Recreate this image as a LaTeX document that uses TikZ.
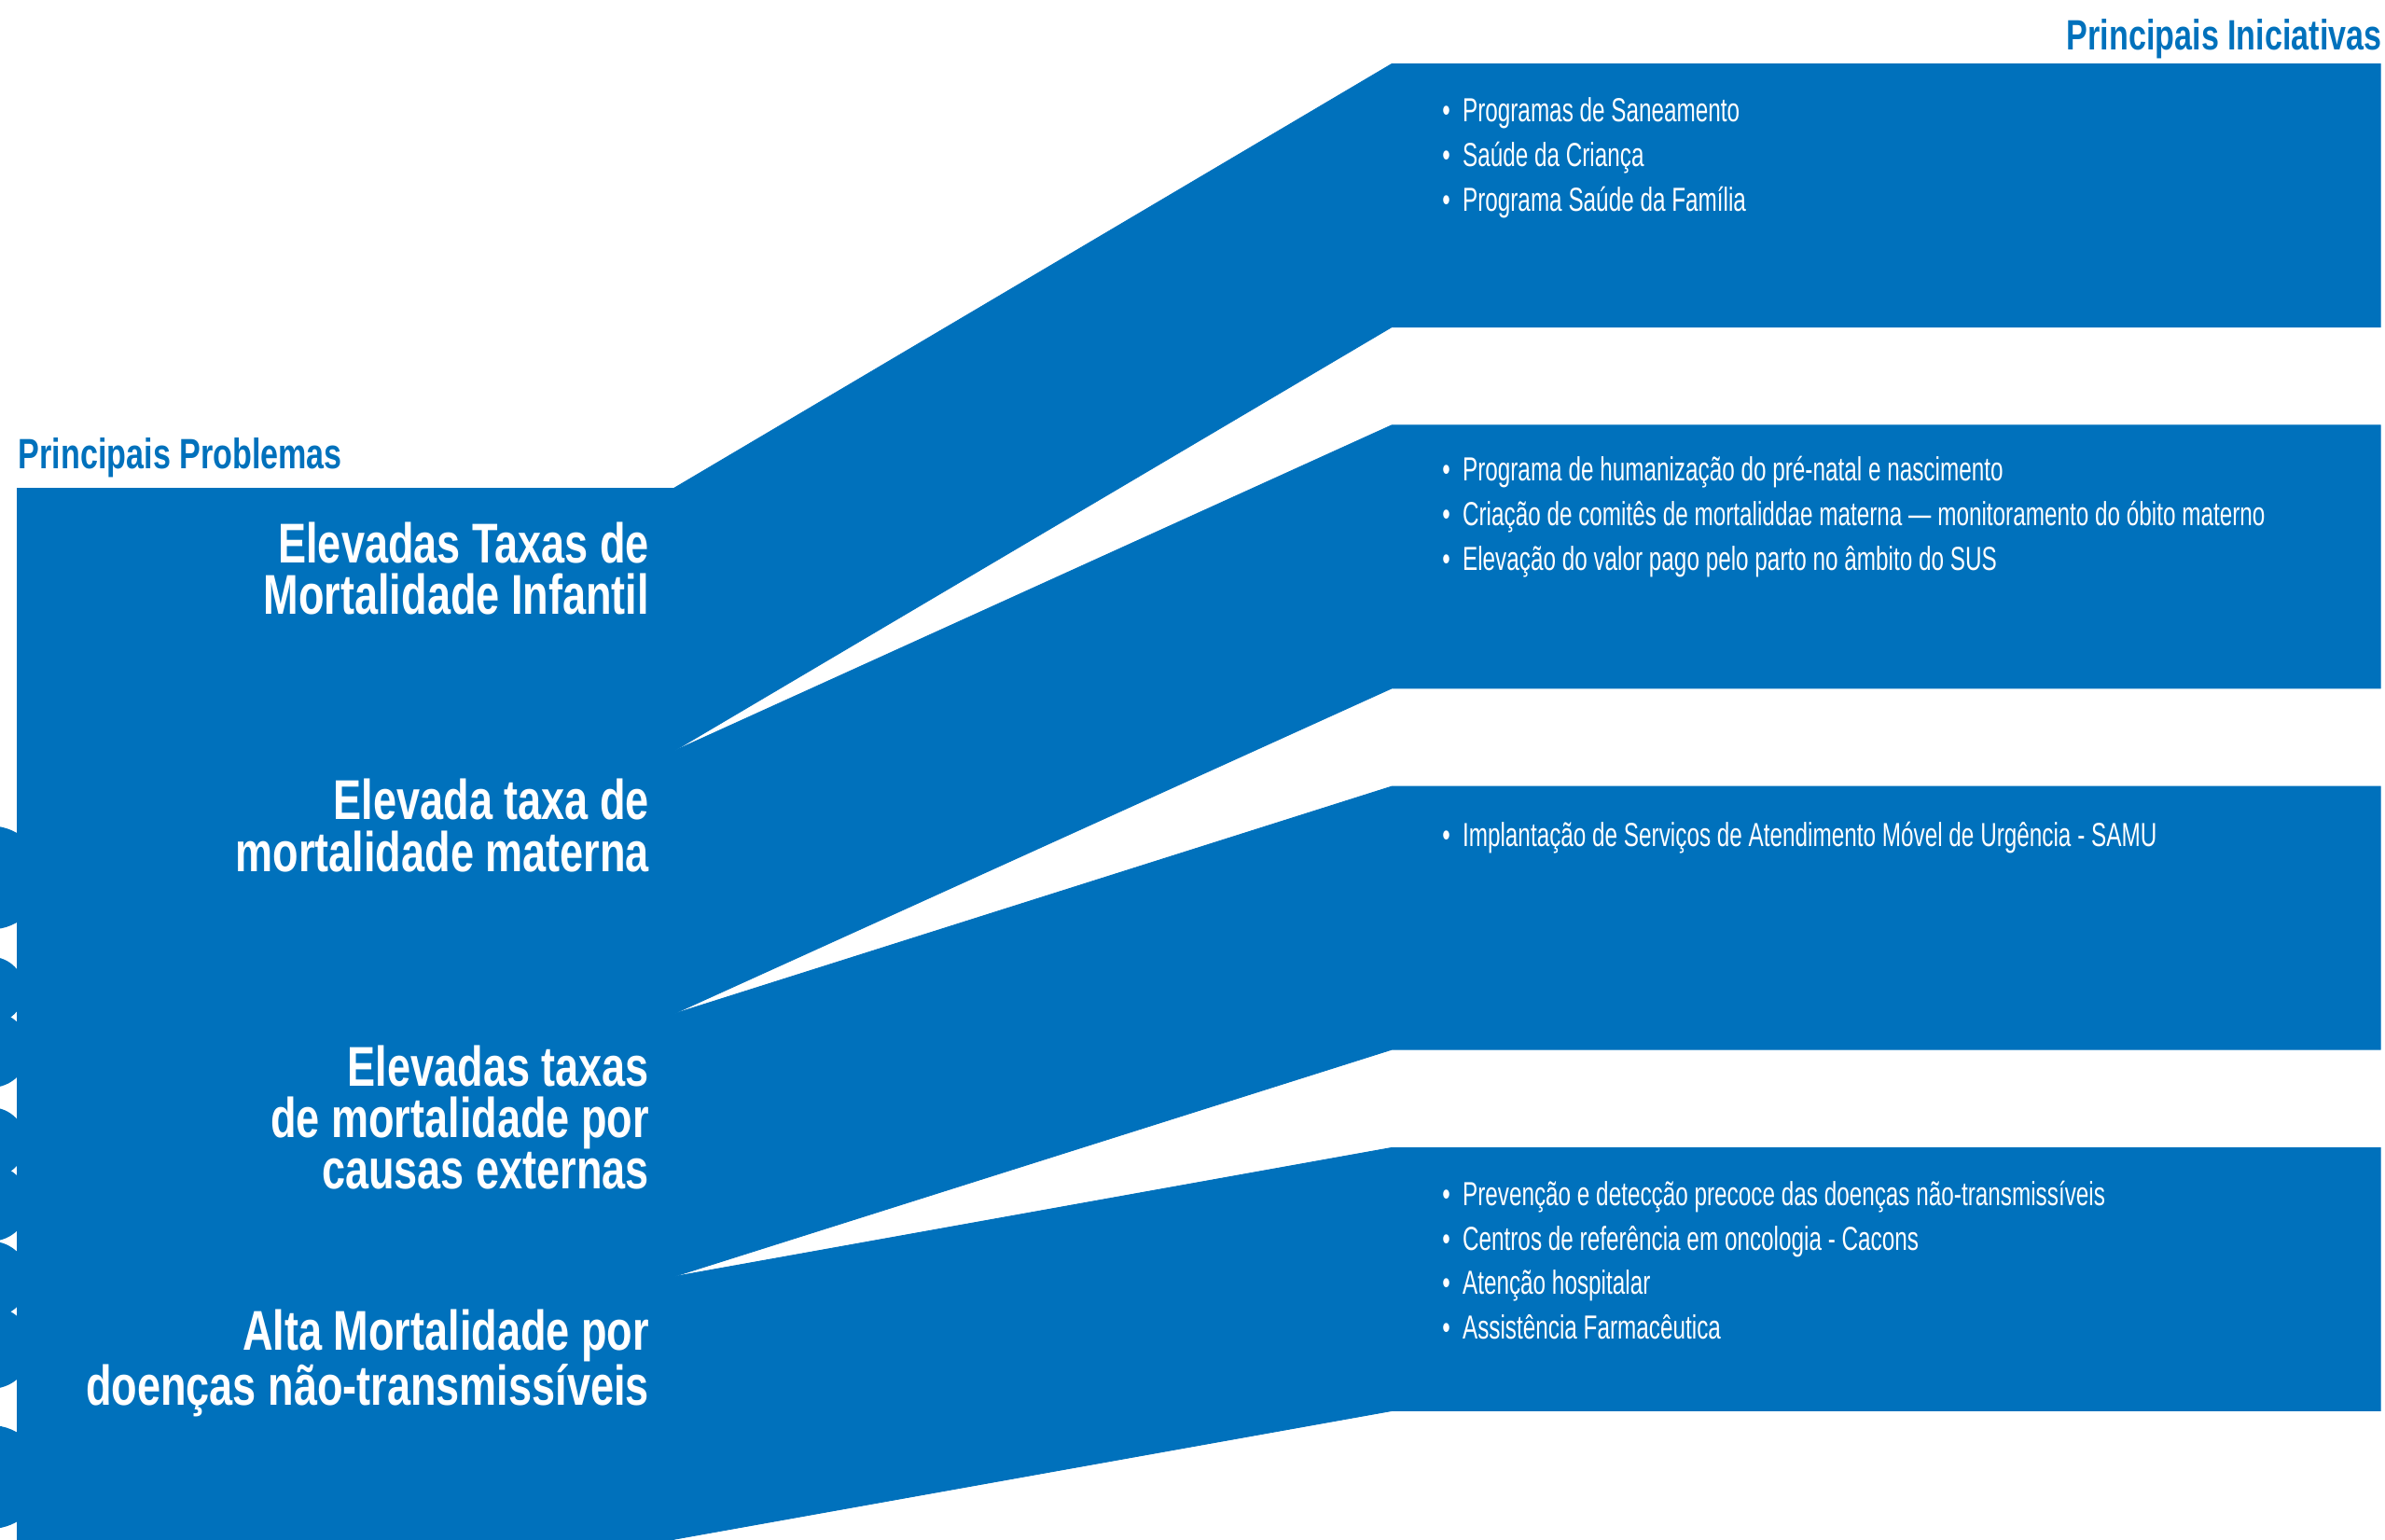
\documentclass[tikz,border=0pt]{standalone}
\usepackage{fontspec}
\setmainfont{Liberation Sans}
\newfontfamily\condfont{Liberation Sans}[FakeStretch=0.75]
\newfontfamily\narrowfont{Liberation Sans}[FakeStretch=0.68]
\definecolor{sbblue}{RGB}{0,113,188}
\newcommand{\itm}{•\kern4bp\ }

\begin{document}
\begin{tikzpicture}[x=1bp,y=-1bp]
  \useasboundingbox (0,0) rectangle (1568,1012);
  \clip (0,0) rectangle (1568,1012);

  \begin{scope}[every path/.style={fill=sbblue,draw=sbblue,line width=0.5bp}]
    \path (11.5,321) rectangle (443,1012);
    \foreach \i in {0,...,3} {
      \path (443,{321+172.75*\i}) -- (915,{42+237.5*\i}) -- (1565,{42+237.5*\i})
        -- (1565,{215+237.5*\i}) -- (915,{215+237.5*\i}) -- (443,{493.75+172.75*\i}) -- cycle;
    }
  \end{scope}

  \begin{scope}
    \clip (0,540) rectangle (11.5,1012);
    \foreach \cy/\r in {577/34,651/22,690/25,751/23,791/25,841/25,886/27,971/34}
      \fill[sbblue] (-6,\cy) circle (\r);
  \end{scope}

  \begin{scope}[every node/.style={inner sep=0,text=sbblue,
      font=\condfont\bfseries\fontsize{28}{30}\selectfont}]
    \node[anchor=base west] (probs) at (12,308) {Principais Problemas};
    \node[anchor=base east] (inits) at (1566,33) {Principais Iniciativas};
  \end{scope}

  \begin{scope}[every node/.style={anchor=north east,align=right,inner sep=0,text=white,
      font=\condfont\bfseries\fontsize{37}{34}\selectfont}]
    \node (p1) at (427,343) {Elevadas Taxas de\\Mortalidade Infantil};
    \node (p2) at (427,512) {Elevada taxa de\\mortalidade materna};
    \node (p3) at (427,687) {Elevadas taxas\\de mortalidade por\\causas externas};
    \node (p4) at (427,861) {Alta Mortalidade por\\doenças não-transmissíveis};
  \end{scope}

  \begin{scope}[every node/.style={anchor=north west,align=left,inner sep=0,text=white,
      font=\narrowfont\fontsize{22}{29.5}\selectfont}]
    \node (i1) at (948,64) {\itm Programas de Saneamento\\\itm Saúde da Criança\\\itm Programa Saúde da Família};
    \node (i2) at (948,300) {\itm Programa de humanização do pré-natal e nascimento\\\itm Criação de comitês de mortaliddae materna — monitoramento do óbito materno\\\itm Elevação do valor pago pelo parto no âmbito do SUS};
    \node (i3) at (948,540) {\itm Implantação de Serviços de Atendimento Móvel de Urgência - SAMU};
    \node (i4) at (948,776) {\itm Prevenção e detecção precoce das doenças não-transmissíveis\\\itm Centros de referência em oncologia - Cacons\\\itm Atenção hospitalar\\\itm Assistência Farmacêutica};
  \end{scope}

\end{tikzpicture}
\end{document}
